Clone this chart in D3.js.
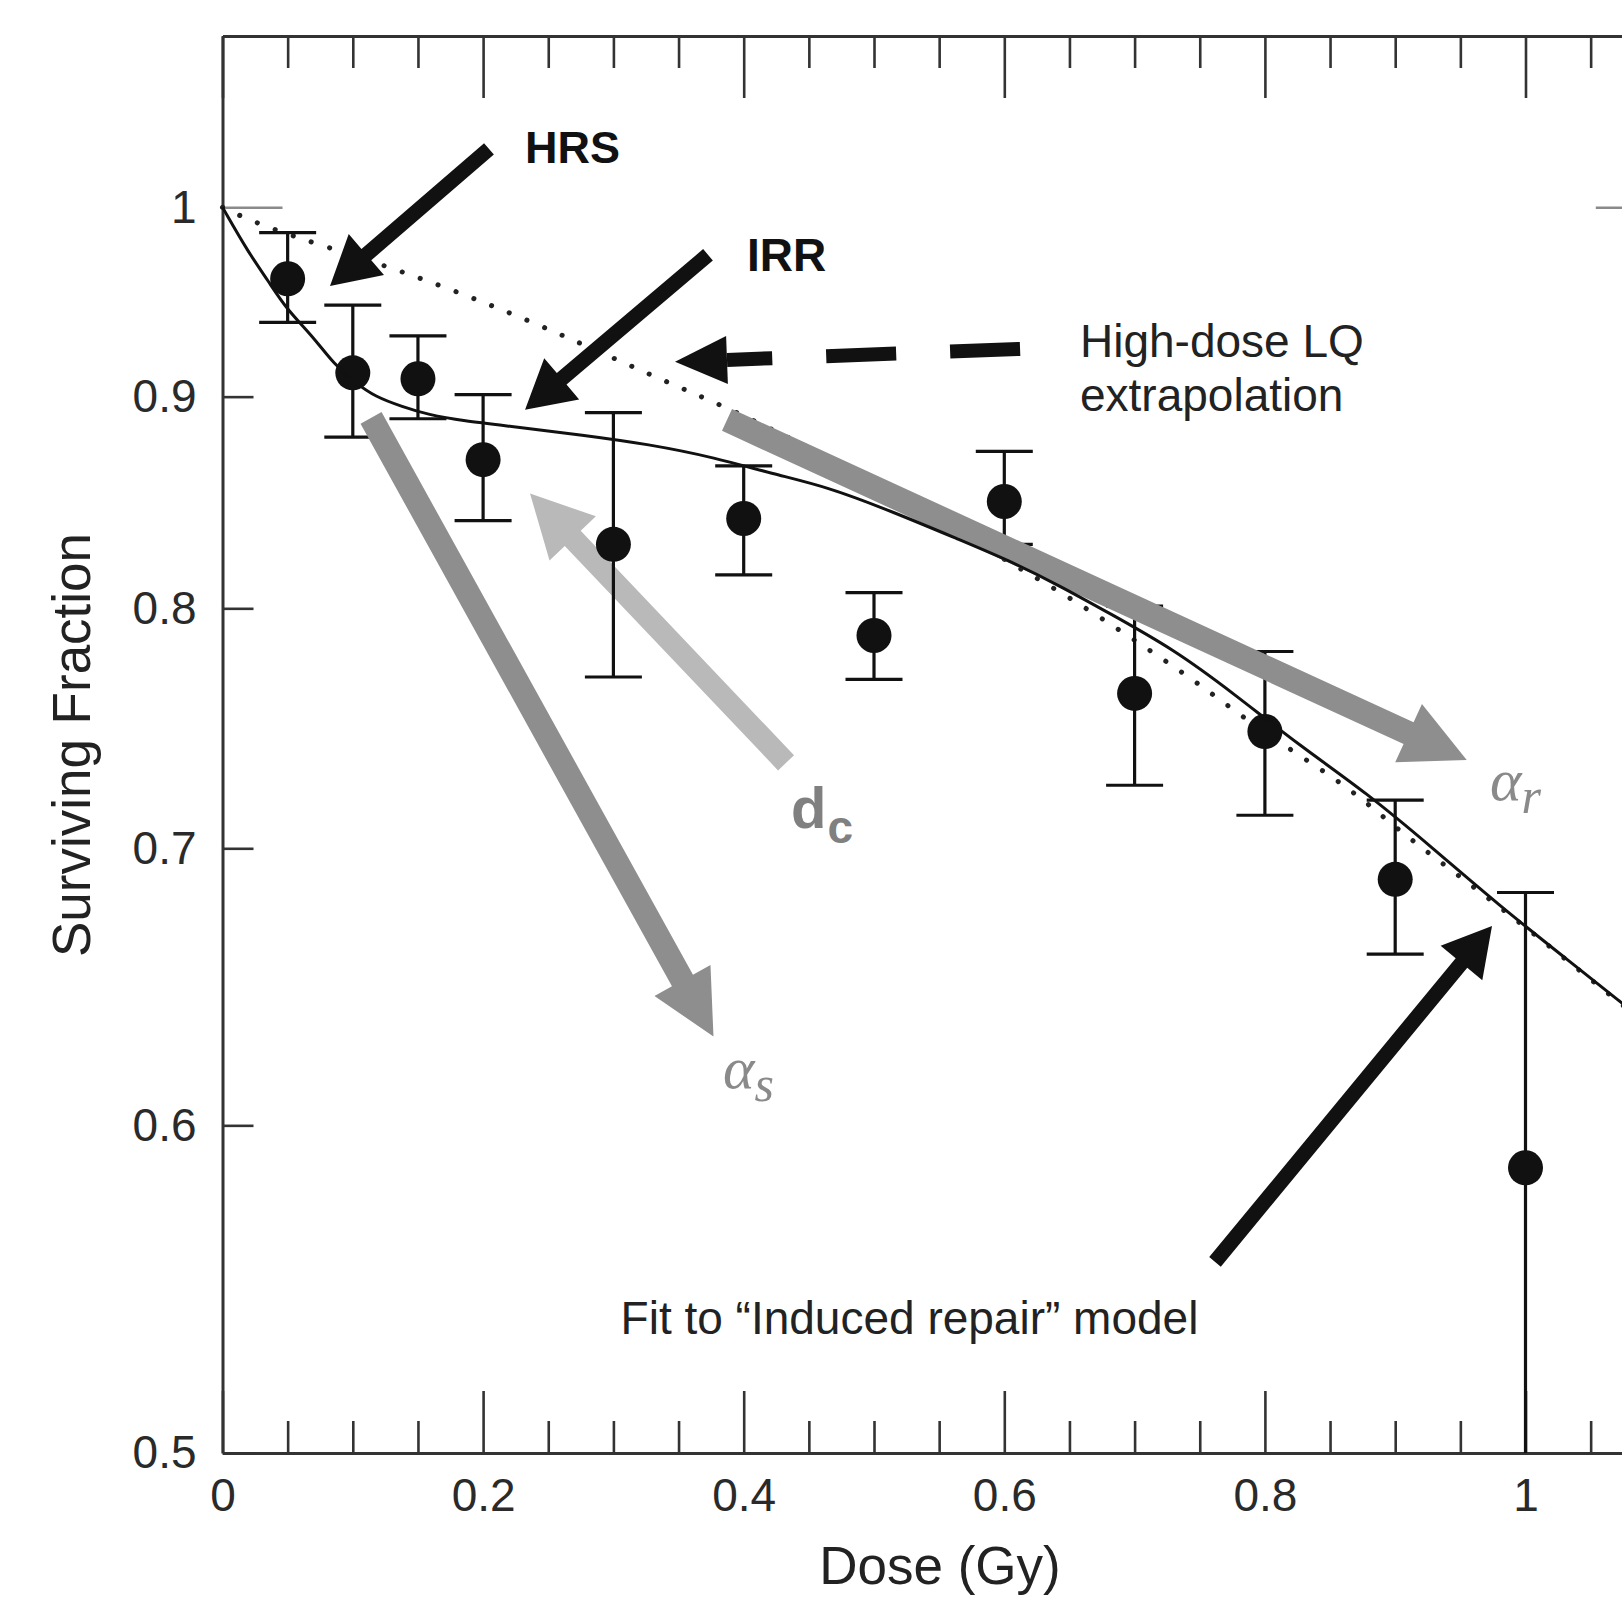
<!DOCTYPE html>
<html>
<head>
<meta charset="utf-8">
<script src="https://cdn.jsdelivr.net/npm/d3@7"></script>
<style>
  body { margin: 0; background: #fff; }
  text { font-family: "Liberation Sans", Arial, sans-serif; }
</style>
</head>
<body>
<script>
var width = 1622, height = 1597;

// measured data: dose (Gy), surviving fraction and error bar ends
var doses = [0.05, 0.1, 0.15, 0.2, 0.3, 0.4, 0.5, 0.6, 0.7, 0.8, 0.9, 1.0];
var survival = [0.961, 0.912, 0.909, 0.869, 0.829, 0.841, 0.788, 0.849, 0.763, 0.747, 0.688, 0.586];
var upper = [0.986, 0.947, 0.931, 0.901, 0.892, 0.866, 0.807, 0.873, 0.801, 0.781, 0.719, 0.683];
var lower = [0.938, 0.880, 0.889, 0.840, 0.770, 0.815, 0.769, 0.829, 0.725, 0.713, 0.660, 0.5];

// induced repair fit (solid)
var fitDose = [0, 0.02, 0.035, 0.049, 0.069, 0.086, 0.102, 0.117, 0.138, 0.158, 0.184, 0.225, 0.276, 0.327, 0.378,
               0.423, 0.464, 0.515, 0.566, 0.602, 0.643, 0.68, 0.73, 0.776, 0.827, 0.878, 0.929, 0.98, 1.032, 1.073, 1.1];
var fitSF = [1, 0.975, 0.960, 0.945, 0.931, 0.916, 0.907, 0.900, 0.895, 0.891, 0.888, 0.885, 0.881, 0.8765, 0.870,
             0.862, 0.856, 0.844, 0.831, 0.822, 0.810, 0.798, 0.782, 0.763, 0.741, 0.722, 0.700, 0.678, 0.658, 0.6425, 0.633];

// high-dose LQ extrapolation (dotted)
var lqDose = [0, 0.035, 0.127, 0.207, 0.269, 0.328, 0.386, 0.45, 0.5, 0.55, 0.6, 0.65, 0.7, 0.75, 0.8, 0.863, 0.9, 0.95, 1.0, 1.052, 1.1];
var lqSF = [1, 0.988, 0.968, 0.947, 0.929, 0.911, 0.895, 0.875, 0.858, 0.840, 0.822, 0.805, 0.786, 0.767, 0.746, 0.725, 0.708, 0.689, 0.670, 0.650, 0.632];

var xMajor = [0, 0.2, 0.4, 0.6, 0.8, 1];
var xMinor = [0.05, 0.1, 0.15, 0.25, 0.3, 0.35, 0.45, 0.5, 0.55, 0.65, 0.7, 0.75, 0.85, 0.9, 0.95, 1.05];
var yTicks = [0.5, 0.6, 0.7, 0.8, 0.9, 1];

// annotation arrows, in data units [dose, SF]
var arrows = [
  {kind: "black", from: [0.2045, 1.033], to: [0.0825, 0.9572]},   // HRS
  {kind: "black", from: [0.3726, 0.9739], to: [0.2322, 0.8934]},  // IRR
  {kind: "black", from: [0.7617, 0.5561], to: [0.9743, 0.6704]},  // fit
  {kind: "dashed", from: [0.6121, 0.9242], to: [0.3473, 0.9176]}, // LQ
  {kind: "light", from: [0.4325, 0.7341], to: [0.236, 0.8528]},   // d_c
  {kind: "gray", from: [0.114, 0.8894], to: [0.3768, 0.6304]},    // alpha_s
  {kind: "gray", from: [0.3872, 0.8884], to: [0.9549, 0.7353]}    // alpha_r
];

var x = d3.scaleLinear().domain([0, 1.1]).range([222.5, 1655.8]);
var y = d3.scaleLog().domain([0.5, 1.1]).range([1453, 36]);

var svg = d3.select("body").append("svg")
    .attr("width", width)
    .attr("height", height);

var axisColor = "#333";

function styleAxis(sel) {
  sel.select(".domain").attr("stroke", axisColor).attr("stroke-width", 3);
  sel.selectAll(".tick line").attr("stroke", axisColor).attr("stroke-width", 2.6);
  sel.selectAll(".tick text").attr("fill", "#2a2a2a").style("font-size", "46px")
     .style("font-family", '"Liberation Sans", Arial, sans-serif');
}

var fmt = d3.format("~g");

// bottom
svg.append("g").attr("transform", "translate(0,1453)")
  .call(d3.axisBottom(x).tickValues(xMinor).tickSizeInner(-32).tickSizeOuter(0).tickFormat(""))
  .call(styleAxis);
svg.append("g").attr("transform", "translate(0,1453)")
  .call(d3.axisBottom(x).tickValues(xMajor).tickSizeInner(-62).tickSizeOuter(0).tickPadding(25).tickFormat(fmt))
  .call(styleAxis);
// top
svg.append("g").attr("transform", "translate(0,36)")
  .call(d3.axisTop(x).tickValues(xMinor).tickSizeInner(-32).tickSizeOuter(0).tickFormat(""))
  .call(styleAxis);
svg.append("g").attr("transform", "translate(0,36)")
  .call(d3.axisTop(x).tickValues(xMajor).tickSizeInner(-62).tickSizeOuter(0).tickFormat(""))
  .call(styleAxis);
// left
var left = svg.append("g").attr("transform", "translate(222.5,0)")
  .call(d3.axisLeft(y).tickValues(yTicks).tickSizeInner(-31).tickSizeOuter(0).tickPadding(26).tickFormat(fmt))
  .call(styleAxis);
left.selectAll(".tick").filter(function(d) { return d === 1; })
  .select("line").attr("x2", 60).attr("stroke", "#8a8a8a");
// right
var right = svg.append("g").attr("transform", "translate(1655.8,0)")
  .call(d3.axisRight(y).tickValues(yTicks).tickSizeInner(-31).tickSizeOuter(0).tickFormat(""))
  .call(styleAxis);
right.selectAll(".tick").filter(function(d) { return d === 1; })
  .select("line").attr("x2", -60).attr("stroke", "#8a8a8a");

// axis titles
svg.append("text")
  .attr("transform", "translate(90,745) rotate(-90)")
  .attr("text-anchor", "middle")
  .style("font-size", "53px").attr("fill", "#222")
  .text("Surviving Fraction");
svg.append("text")
  .attr("x", 940).attr("y", 1584)
  .attr("text-anchor", "middle")
  .style("font-size", "53px").attr("fill", "#222")
  .text("Dose (Gy)");

// arrow outline as polygon
function arrowPoints(a, shaft, hl, hw, noShaft) {
  var x1 = x(a.from[0]), y1 = y(a.from[1]), x2 = x(a.to[0]), y2 = y(a.to[1]);
  var dx = x2 - x1, dy = y2 - y1, len = Math.sqrt(dx * dx + dy * dy);
  var ux = dx / len, uy = dy / len, px = -uy, py = ux;
  var bx = x2 - ux * hl, by = y2 - uy * hl;
  var pts;
  if (noShaft) {
    pts = [[bx + px * hw / 2, by + py * hw / 2], [x2, y2], [bx - px * hw / 2, by - py * hw / 2]];
  } else {
    pts = [
      [x1 + px * shaft / 2, y1 + py * shaft / 2],
      [bx + px * shaft / 2, by + py * shaft / 2],
      [bx + px * hw / 2, by + py * hw / 2],
      [x2, y2],
      [bx - px * hw / 2, by - py * hw / 2],
      [bx - px * shaft / 2, by - py * shaft / 2],
      [x1 - px * shaft / 2, y1 - py * shaft / 2]
    ];
  }
  return {pts: pts.map(function(p) { return p.join(","); }).join(" "), bx: bx, by: by, x1: x1, y1: y1};
}

function drawArrows(kinds) {
  arrows.filter(function(a) { return kinds.indexOf(a.kind) >= 0; }).forEach(function(a) {
    if (a.kind === "black") {
      svg.append("polygon").attr("points", arrowPoints(a, 15, 48, 54).pts).attr("fill", "#111");
    } else if (a.kind === "gray") {
      svg.append("polygon").attr("points", arrowPoints(a, 24, 64, 64).pts).attr("fill", "#8e8e8e");
    } else if (a.kind === "light") {
      svg.append("polygon").attr("points", arrowPoints(a, 22, 62, 64).pts).attr("fill", "#b9b9b9");
    } else if (a.kind === "dashed") {
      var ap = arrowPoints(a, 14, 52, 48, true);
      svg.append("polygon").attr("points", ap.pts).attr("fill", "#111");
      svg.append("line")
        .attr("x1", ap.x1).attr("y1", ap.y1).attr("x2", ap.bx).attr("y2", ap.by)
        .attr("stroke", "#111").attr("stroke-width", 14)
        .attr("stroke-dasharray", "70,54");
    }
  });
}

drawArrows(["light"]);

// dotted LQ extrapolation
var lqData = lqDose.map(function(d, i) { return [d, lqSF[i]]; });
svg.append("path")
  .datum(lqData)
  .attr("fill", "none")
  .attr("stroke", "#222")
  .attr("stroke-width", 5)
  .attr("stroke-linecap", "round")
  .attr("stroke-dasharray", "0.1,19")
  .attr("d", d3.line().x(function(d) { return x(d[0]); }).y(function(d) { return y(d[1]); }).curve(d3.curveBasis));

// error bars and points
var pts = doses.map(function(d, i) { return {d: d, s: survival[i], hi: upper[i], lo: lower[i]}; });
var bars = svg.append("g").attr("stroke", "#111").attr("stroke-width", 3.2);
bars.selectAll("line.whisker").data(pts).enter().append("line")
  .attr("class", "whisker")
  .attr("x1", function(p) { return x(p.d); }).attr("x2", function(p) { return x(p.d); })
  .attr("y1", function(p) { return y(p.hi); }).attr("y2", function(p) { return y(p.lo); });
bars.selectAll("line.capHi").data(pts).enter().append("line")
  .attr("class", "capHi")
  .attr("x1", function(p) { return x(p.d) - 28.5; }).attr("x2", function(p) { return x(p.d) + 28.5; })
  .attr("y1", function(p) { return y(p.hi); }).attr("y2", function(p) { return y(p.hi); });
bars.selectAll("line.capLo").data(pts.filter(function(p) { return p.lo > 0.5; })).enter().append("line")
  .attr("class", "capLo")
  .attr("x1", function(p) { return x(p.d) - 28.5; }).attr("x2", function(p) { return x(p.d) + 28.5; })
  .attr("y1", function(p) { return y(p.lo); }).attr("y2", function(p) { return y(p.lo); });
svg.append("g").selectAll("circle").data(pts).enter().append("circle")
  .attr("cx", function(p) { return x(p.d); })
  .attr("cy", function(p) { return y(p.s); })
  .attr("r", 17.5)
  .attr("fill", "#111");

drawArrows(["gray"]);

// induced repair fit
var fitData = fitDose.map(function(d, i) { return [d, fitSF[i]]; });
svg.append("path")
  .datum(fitData)
  .attr("fill", "none")
  .attr("stroke", "#111")
  .attr("stroke-width", 3)
  .attr("d", d3.line().x(function(d) { return x(d[0]); }).y(function(d) { return y(d[1]); }).curve(d3.curveBasis));

drawArrows(["black", "dashed"]);

// annotation texts
function label(dose, sf, txt, size, weight, fill) {
  return svg.append("text")
    .attr("x", x(dose)).attr("y", y(sf))
    .style("font-size", size + "px")
    .style("font-weight", weight)
    .attr("fill", fill)
    .text(txt);
}
label(0.2322, 1.0247, "HRS", 45, "bold", "#111");
label(0.4025, 0.9652, "IRR", 46, "bold", "#111");
label(0.6581, 0.9201, "High-dose LQ", 46, "normal", "#222");
label(0.6581, 0.8929, "extrapolation", 46, "normal", "#222");
label(0.3055, 0.5343, "Fit to \u201cInduced repair\u201d model", 46, "normal", "#222");

function greek(dose, sf, main, sub) {
  var t = svg.append("text")
    .attr("x", x(dose)).attr("y", y(sf))
    .attr("fill", "#8a8a8a")
    .style("font-family", '"Liberation Serif", "Times New Roman", serif')
    .style("font-style", "italic")
    .style("font-size", "60px");
  t.append("tspan").text(main);
  t.append("tspan").attr("dx", 0).attr("dy", 13).style("font-size", "50px").text(sub);
}
greek(0.3842, 0.6126, "\u03b1", "s");
greek(0.9728, 0.7191, "\u03b1", "r");

var dc = svg.append("text")
  .attr("x", x(0.4363)).attr("y", y(0.708))
  .attr("fill", "#808080")
  .style("font-weight", "bold")
  .style("font-size", "58px");
dc.append("tspan").text("d");
dc.append("tspan").attr("dx", 1).attr("dy", 15).style("font-size", "46px").text("c");
</script>
</body>
</html>
